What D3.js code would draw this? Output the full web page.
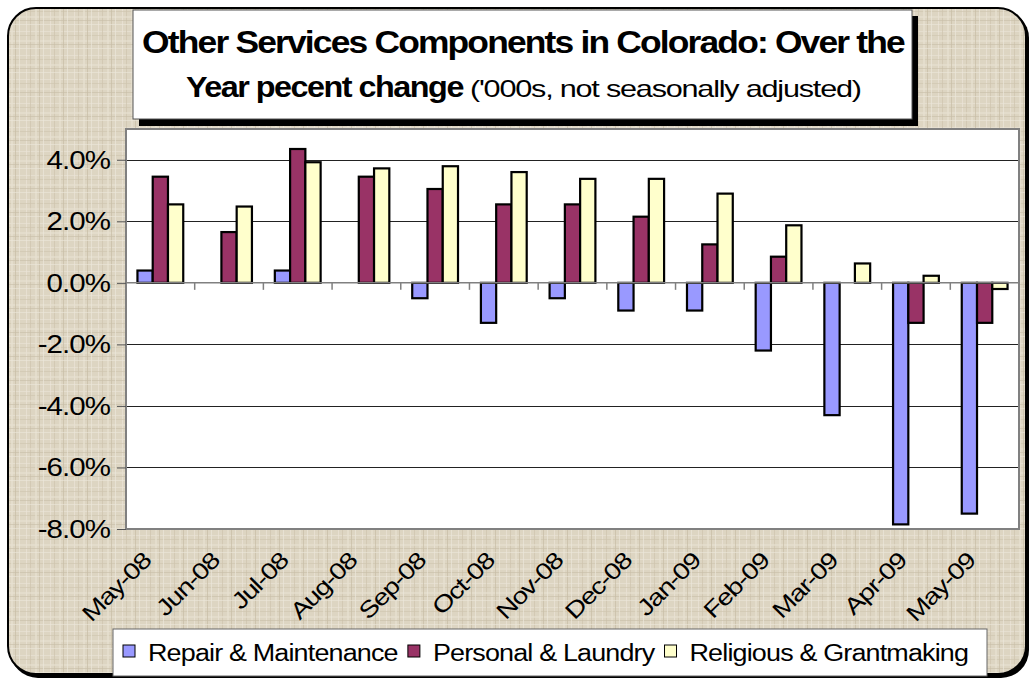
<!DOCTYPE html>
<html>
<head>
<meta charset="utf-8">
<script src="https://cdn.jsdelivr.net/npm/d3@7"></script>
<style>
  body { margin: 0; background: #fff; }
  svg text { font-family: "Liberation Sans", Arial, sans-serif; fill: #000; }
</style>
</head>
<body>
<div id="chart"></div>
<script>
const months = ["May-08", "Jun-08", "Jul-08", "Aug-08", "Sep-08", "Oct-08", "Nov-08",
  "Dec-08", "Jan-09", "Feb-09", "Mar-09", "Apr-09", "May-09"];
const seriesNames = ["Repair & Maintenance", "Personal & Laundry", "Religious & Grantmaking"];
const repair = [0.4, 0, 0.4, 0, -0.5, -1.3, -0.5, -0.9, -0.9, -2.2, -4.3, -7.85, -7.5];
const personal = [3.45, 1.65, 4.35, 3.45, 3.05, 2.55, 2.55, 2.15, 1.25, 0.85, 0, -1.3, -1.3];
const religious = [2.55, 2.48, 3.92, 3.72, 3.79, 3.6, 3.38, 3.38, 2.9, 1.87, 0.63, 0.23, -0.2];
const yTicks = [-8, -6, -4, -2, 0, 2, 4];
const colors = ["#9999ff", "#993366", "#ffffcc"];

const width = 1032, height = 681;
const plot = { left: 126, right: 1019, top: 129, bottom: 529 };

const svg = d3.select("#chart").append("svg")
  .attr("width", width).attr("height", height);

// the original text is wide and tightly spaced
function wideText(parent, px, py, str, size, opts) {
  const g = parent.append("g").attr("transform", `translate(${px},${py})${opts.rotate ? ` rotate(${opts.rotate})` : ""}`);
  const t = g.append("text").attr("text-anchor", opts.anchor || "start")
    .style("font-size", size + "px").style("font-weight", opts.bold ? "bold" : "normal")
    .style("letter-spacing", (opts.ls || 0) + "px")
    .text(str);
  const w = t.node().getComputedTextLength();
  const k = opts.width ? opts.width / w : (opts.k || 1);
  t.attr("transform", `scale(${k},1)`);
  return w * k;
}

// linen texture
const defs = svg.append("defs");
const pat = defs.append("pattern").attr("id", "linen")
  .attr("patternUnits", "userSpaceOnUse").attr("width", 24).attr("height", 24);
pat.append("rect").attr("width", 24).attr("height", 24).attr("fill", "#ddd5c2");
[[2, "#ebe5d7", 1], [6, "#cfc5ae", 1], [11, "#e8e1d1", 2], [15, "#c8bea6", 1], [19, "#ece7da", 1]].forEach(([p, c, w]) => {
  pat.append("rect").attr("x", p).attr("y", 0).attr("width", w).attr("height", 24).attr("fill", c).attr("opacity", 0.7);
  pat.append("rect").attr("x", 0).attr("y", (p + 5) % 24).attr("width", 24).attr("height", w).attr("fill", c).attr("opacity", 0.6);
});

// outer frame with shadow
svg.append("rect").attr("x", 10).attr("y", 10).attr("width", 1019).attr("height", 668)
  .attr("rx", 28).attr("fill", "#000");
svg.append("rect").attr("x", 8).attr("y", 8).attr("width", 1018).attr("height", 666)
  .attr("rx", 28).attr("fill", "url(#linen)").attr("stroke", "#000").attr("stroke-width", 2);

// scales
const x = d3.scaleBand().domain(months).range([plot.left, plot.right]);
const xSub = d3.scaleBand().domain(seriesNames).range([0, x.bandwidth()])
  .paddingInner(0).paddingOuter(0.75);
const y = d3.scaleLinear().domain([-8, 5]).range([plot.bottom, plot.top]);

// plot area
svg.append("rect").attr("x", plot.left).attr("y", plot.top)
  .attr("width", plot.right - plot.left).attr("height", plot.bottom - plot.top)
  .attr("fill", "#fff");

// gridlines
svg.append("g").selectAll("line").data(yTicks.filter(d => d !== 0 && d !== -8)).join("line")
  .attr("x1", plot.left).attr("x2", plot.right)
  .attr("y1", d => Math.round(y(d)) + 0.5).attr("y2", d => Math.round(y(d)) + 0.5)
  .attr("stroke", "#222").attr("stroke-width", 1);

// bars
const data = [repair, personal, religious];
const groups = svg.append("g").selectAll("g").data(data).join("g")
  .attr("fill", (d, i) => colors[i]);
groups.each(function (vals, si) {
  d3.select(this).selectAll("rect").data(vals.map((v, i) => ({ v, m: months[i] })).filter(d => d.v !== 0))
    .join("rect")
    .attr("x", d => x(d.m) + xSub(seriesNames[si]))
    .attr("y", d => y(Math.max(0, d.v)))
    .attr("width", xSub.bandwidth())
    .attr("height", d => Math.abs(y(d.v) - y(0)))
    .attr("stroke", "#000").attr("stroke-width", 2.2);
});

// plot border
svg.append("rect").attr("x", plot.left).attr("y", plot.top)
  .attr("width", plot.right - plot.left).attr("height", plot.bottom - plot.top)
  .attr("fill", "none").attr("stroke", "#808080").attr("stroke-width", 2);

// y axis
const yAxis = svg.append("g").attr("transform", `translate(${plot.left},0)`)
  .call(d3.axisLeft(y).tickValues(yTicks).tickSize(9).tickFormat(""));
yAxis.select(".domain").remove();
yAxis.selectAll(".tick line").attr("stroke", "#555");
yTicks.forEach(v => {
  wideText(svg, 110, y(v) + 9, d3.format(".1f")(v).replace("−", "-") + "%", 25, { anchor: "end", k: 1.18, ls: -0.8 });
});

// x axis on zero line
const xAxis = svg.append("g").attr("transform", `translate(0,${y(0)})`);
xAxis.append("line").attr("x1", plot.left).attr("x2", plot.right)
  .attr("stroke", "#808080").attr("stroke-width", 1.5);
xAxis.selectAll(".tk").data(months.slice(1).concat(["end"])).join("line")
  .attr("x1", (d, i) => i < months.length - 1 ? x(d) : plot.right)
  .attr("x2", (d, i) => i < months.length - 1 ? x(d) : plot.right)
  .attr("y1", 0).attr("y2", 7).attr("stroke", "#808080").attr("stroke-width", 1.5);

// x labels, rotated
const xl = svg.append("g");
months.forEach(m => {
  wideText(xl, x(m) + x.bandwidth() / 2 - 8, 562, m, 23, { anchor: "end", rotate: -45, k: 1.22, ls: -1 });
});

// title box
svg.append("rect").attr("x", 139).attr("y", 16).attr("width", 779).attr("height", 110).attr("fill", "#000");
svg.append("rect").attr("x", 133).attr("y", 10).attr("width", 779).attr("height", 109)
  .attr("fill", "#fff").attr("stroke", "#555").attr("stroke-width", 1);
wideText(svg, 523, 53, "Other Services Components in Colorado: Over the", 31, { anchor: "middle", bold: true, width: 762, ls: -1.6 });
wideText(svg, 186, 97, "Year pecent change", 30, { bold: true, width: 277, ls: -1.4 });
wideText(svg, 470, 97, "('000s, not seasonally adjusted)", 23, { width: 391, ls: -0.9 });

// legend
const legend = svg.append("g");
legend.append("rect").attr("x", 113).attr("y", 629).attr("width", 874).attr("height", 47)
  .attr("fill", "#fff").attr("stroke", "#666").attr("stroke-width", 1);
let lx = 123;
seriesNames.forEach((name, i) => {
  legend.append("rect").attr("x", lx).attr("y", 645).attr("width", 12).attr("height", 12)
    .attr("fill", colors[i]).attr("stroke", "#000").attr("stroke-width", 1);
  const w = wideText(legend, lx + 25, 661, name, 23, { k: 1.17, ls: -0.7 });
  lx += 25 + w + 10;
});
</script>
</body>
</html>
